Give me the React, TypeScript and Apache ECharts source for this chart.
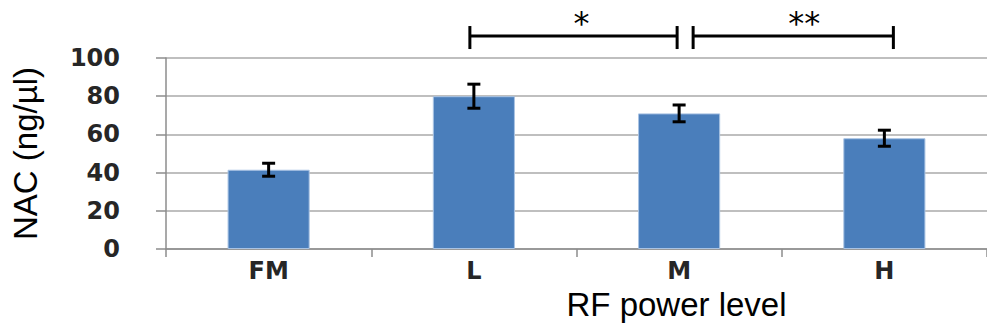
import React, { useEffect, useRef } from "react";
import * as echarts from "echarts";

const categories = ["FM", "L", "M", "H"];
const meanValues = [41.5, 80, 71, 58];
const errorValues = [3.4, 6.3, 4.4, 4.2];
const yTicks = { min: 0, max: 100, interval: 20 };
// significance brackets: [fromCategoryIndex, toCategoryIndex, level, label]
const brackets: [number, number, number, string][] = [
  [1, 2, 111.5, "*"],
  [2, 3, 111.5, "**"],
];

export default function App() {
  const ref = useRef<HTMLDivElement>(null);
  useEffect(() => {
    if (!ref.current) return;
    const chart = echarts.init(ref.current, undefined, { renderer: "svg" });
    const errData = categories.map((c, i) => [i, meanValues[i] - errorValues[i], meanValues[i] + errorValues[i]]);
    chart.setOption({
      animation: false,
      grid: { left: 166, width: 825, top: 58, bottom: 83 },
      xAxis: {
        type: "category",
        data: categories,
        boundaryGap: true,
        axisLine: { show: true, lineStyle: { color: "#8c8c8c", width: 1.5 } },
        axisTick: { show: true, length: 8, lineStyle: { color: "#8c8c8c", width: 1.5 } },
        axisLabel: {
          margin: 10,
          fontFamily: "DejaVu Sans",
          fontWeight: "bold",
          fontSize: 24,
          color: "#262626",
        },
        name: "RF power level",
        nameLocation: "middle",
        nameGap: 37,
        nameTextStyle: {
          fontFamily: "Liberation Sans",
          fontSize: 33,
          color: "#000",
          padding: [0, 0, 0, 200],
        },
      },
      yAxis: {
        type: "value",
        min: yTicks.min,
        max: yTicks.max,
        interval: yTicks.interval,
        axisLine: { show: true, lineStyle: { color: "#8c8c8c", width: 1.5 } },
        axisTick: { show: true, length: 10, lineStyle: { color: "#8c8c8c", width: 1.5 } },
        splitLine: { show: true, lineStyle: { color: "#bfbfbf", width: 2 } },
        axisLabel: {
          margin: 46,
          fontFamily: "DejaVu Sans",
          fontWeight: "bold",
          fontSize: 24,
          color: "#262626",
        },
        name: "NAC (ng/µl)",
        nameLocation: "middle",
        nameRotate: 90,
        nameGap: 124,
        nameTextStyle: {
          fontFamily: "Liberation Sans",
          fontSize: 33,
          color: "#000",
        },
      },
      series: [
        {
          type: "bar",
          data: meanValues,
          barWidth: "40%",
          itemStyle: { color: "#4a7ebb", borderColor: "#a9c3e3", borderWidth: 1 },
        },
        {
          type: "custom",
          data: errData,
          z: 5,
          renderItem: (params: any, api: any) => {
            const x = api.value(0);
            const lo = api.coord([x, api.value(1)]);
            const hi = api.coord([x, api.value(2)]);
            const cx = lo[0];
            const hw = 6.5;
            const st = { stroke: "#000", lineWidth: 3 };
            return {
              type: "group",
              children: [
                { type: "line", shape: { x1: cx, y1: lo[1], x2: cx, y2: hi[1] }, style: st },
                { type: "line", shape: { x1: cx - hw, y1: lo[1], x2: cx + hw, y2: lo[1] }, style: st },
                { type: "line", shape: { x1: cx - hw, y1: hi[1], x2: cx + hw, y2: hi[1] }, style: st },
              ],
            };
          },
        },
        {
          type: "custom",
          data: brackets.map((b) => [b[0], b[1], b[2], b[3]]),
          clip: false,
          z: 6,
          renderItem: (params: any, api: any) => {
            const i = params.dataIndex;
            const b = brackets[i];
            const p1 = api.coord([b[0], b[2]]);
            const p2 = api.coord([b[1], b[2]]);
            const x1 = i === 0 ? p1[0] - 4 : p1[0] + 14;
            const x2 = i === 0 ? p2[0] - 2 : p2[0] + 9;
            const y = p1[1];
            const st = { stroke: "#000", lineWidth: 3 };
            return {
              type: "group",
              children: [
                { type: "line", shape: { x1, y1: y, x2, y2: y }, style: st },
                { type: "line", shape: { x1, y1: y - 10, x2: x1, y2: y + 13 }, style: st },
                { type: "line", shape: { x1: x2, y1: y - 10, x2, y2: y + 13 }, style: st },
                {
                  type: "text",
                  style: {
                    text: b[3],
                    x: (x1 + x2) / 2 + (i === 0 ? 8 : 11),
                    y: y + 3,
                    align: "center",
                    verticalAlign: "bottom",
                    fontFamily: "DejaVu Sans",
                    fontSize: 32,
                    fill: "#000",
                  },
                },
              ],
            };
          },
        },
      ],
    });
    return () => chart.dispose();
  }, []);
  return <div ref={ref} style={{ position: "absolute", left: 0, top: 0, width: 987, height: 332 }} />;
}
